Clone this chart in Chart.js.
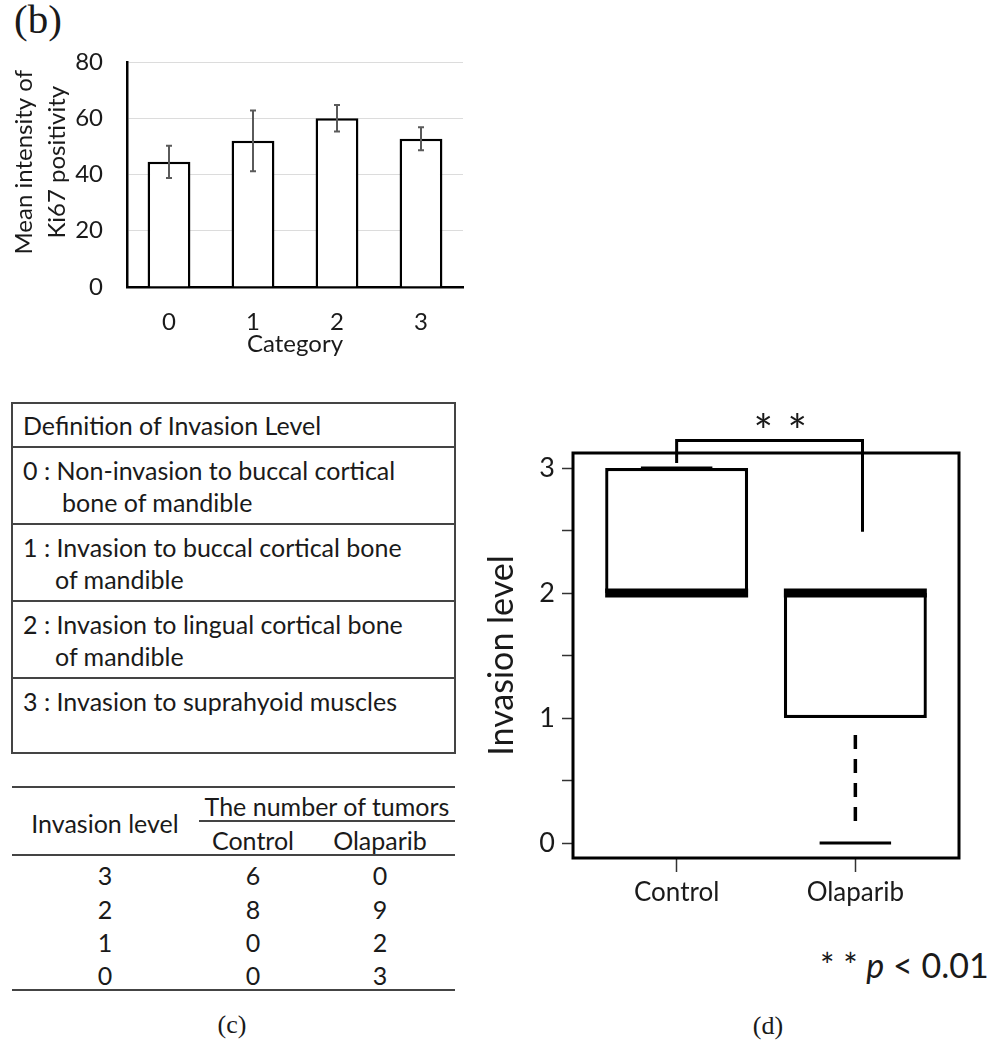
<!DOCTYPE html>
<html>
<head>
<meta charset="utf-8">
<script src="https://cdn.jsdelivr.net/npm/chart.js@4.4.1/dist/chart.umd.min.js"></script>
<style>
  body { margin: 0; width: 997px; height: 1043px; position: relative; overflow: hidden; background: #fff; font-family: Lato, sans-serif; color: #1a1a1a; }
  .abs { position: absolute; white-space: nowrap; }
  .serif { font-family: 'Liberation Serif', serif; }
  .rule { position: absolute; height: 2px; background: #444; }
  .cell { position: absolute; width: 260px; text-align: center; font-size: 25px; line-height: 30px; white-space: nowrap; }
  #defTable { position: absolute; left: 11px; top: 402px; width: 441px; height: 348px; border: 2px solid #444; font-size: 25px; }
  .defRow { border-top: 2px solid #444; padding: 6px 0 0 10px; box-sizing: border-box; line-height: 32px; white-space: nowrap; }
  .defRow:first-child { border-top: none; padding-top: 5px; }
</style>
</head>
<body>
<div class="abs serif" style="left:14px;top:-1px;font-size:41px;line-height:40px">(b)</div>
<canvas id="barChart" class="abs" width="480" height="360" style="left:0;top:0"></canvas>

<div id="defTable"></div>
<div id="countTable"></div>
<div class="abs serif" style="left:182px;top:1010px;width:100px;text-align:center;font-size:26px;line-height:30px">(c)</div>

<canvas id="boxChart" class="abs" width="517" height="530" style="left:480px;top:390px"></canvas>
<div class="abs" style="left:820px;top:945px;font-size:34px;line-height:40px">* * <i>p</i> &lt; 0.01</div>
<div class="abs serif" style="left:718px;top:1011px;width:100px;text-align:center;font-size:26px;line-height:30px">(d)</div>

<script>
// Ki67 positivity by category (panel b)
const categories = ['0', '1', '2', '3'];
const ki67Mean = [44.5, 52.0, 60.0, 52.7];
const ki67Err = [5.7, 10.8, 4.7, 4.1];
const ki67Ticks = [0, 20, 40, 60, 80];

// invasion level box plot (panel d)
const groups = ['Control', 'Olaparib'];
const whiskerLow = [2, 0];
const quart1 = [2, 1];
const medians = [2, 2];
const quart3 = [3, 2];
const whiskerHigh = [3, 2];
const invasionTicks = [0, 0.5, 1, 1.5, 2, 2.5, 3];
const invasionTickLabels = ['0', '', '1', '', '2', '', '3'];

// tumor counts (panel c)
const levels = ['3', '2', '1', '0'];
const controlCounts = [6, 8, 0, 0];
const olaparibCounts = [0, 9, 2, 3];

const defHeader = 'Definition of Invasion Level';
const defRows = [
  ['0 : Non-invasion to buccal cortical', 'bone of mandible'],
  ['1 : Invasion to buccal cortical bone', 'of mandible'],
  ['2 : Invasion to lingual cortical bone', 'of mandible'],
  ['3 : Invasion to suprahyoid muscles']
];

const ink = '#1a1a1a';

// ---------- definition table ----------
const defTable = document.getElementById('defTable');
const rowHeights = [42, 77, 77, 77, 75];
[[defHeader]].concat(defRows).forEach((lines, r) => {
  const row = document.createElement('div');
  row.className = 'defRow';
  row.style.height = rowHeights[r] + 'px';
  lines.forEach((t, k) => {
    const line = document.createElement('div');
    line.textContent = t;
    if (k > 0) line.style.marginLeft = (r === 1 ? 39 : 32) + 'px';
    row.appendChild(line);
  });
  defTable.appendChild(row);
});

// ---------- count table ----------
const countTable = document.getElementById('countTable');
function rule(x0, x1, y) {
  const d = document.createElement('div');
  d.className = 'rule';
  d.style.left = x0 + 'px';
  d.style.width = (x1 - x0) + 'px';
  d.style.top = (y - 1) + 'px';
  countTable.appendChild(d);
}
function cell(text, cx, cy) {
  const d = document.createElement('div');
  d.className = 'cell';
  d.textContent = text;
  d.style.left = (cx - 130) + 'px';
  d.style.top = (cy - 15) + 'px';
  countTable.appendChild(d);
}
rule(12, 455, 787);
rule(199, 455, 821);
rule(12, 455, 855);
rule(12, 455, 990);
const colX = [105, 253, 380];
cell('Invasion level', colX[0], 823);
cell('The number of tumors', 327, 806);
cell('Control', colX[1], 840);
cell('Olaparib', colX[2], 840);
const rowY = [875, 908.5, 942, 975];
levels.forEach((lv, i) => {
  cell(lv, colX[0], rowY[i]);
  cell(String(controlCounts[i]), colX[1], rowY[i]);
  cell(String(olaparibCounts[i]), colX[2], rowY[i]);
});

// ---------- panel b: bar chart with error bars ----------
const errorBars = {
  id: 'errorBars',
  afterDatasetsDraw(chart) {
    const ctx = chart.ctx;
    const y = chart.scales.y;
    ctx.save();
    ctx.strokeStyle = '#5a5a5a';
    ctx.lineWidth = 2;
    chart.getDatasetMeta(0).data.forEach((bar, i) => {
      const top = y.getPixelForValue(ki67Mean[i] + ki67Err[i]);
      const bot = y.getPixelForValue(ki67Mean[i] - ki67Err[i]);
      ctx.beginPath();
      ctx.moveTo(bar.x, top); ctx.lineTo(bar.x, bot);
      ctx.moveTo(bar.x - 3, top); ctx.lineTo(bar.x + 3, top);
      ctx.moveTo(bar.x - 3, bot); ctx.lineTo(bar.x + 3, bot);
      ctx.stroke();
    });
    ctx.restore();
  }
};

new Chart(document.getElementById('barChart'), {
  type: 'bar',
  data: {
    labels: categories,
    datasets: [{
      data: ki67Mean,
      backgroundColor: '#fff',
      borderColor: '#000',
      borderWidth: 2.5,
      barPercentage: 0.51,
      categoryPercentage: 1
    }]
  },
  options: {
    responsive: false,
    animation: false,
    events: [],
    layout: { padding: { top: 62, right: 17 } },
    plugins: { legend: { display: false }, tooltip: { enabled: false } },
    scales: {
      x: {
        grid: { display: false, drawTicks: false },
        border: { color: '#000', width: 2.5 },
        ticks: { color: ink, font: { family: 'Lato', size: 24 }, padding: 21 },
        title: { display: true, text: 'Category', color: ink, font: { family: 'Lato', size: 24 }, padding: { top: 0, bottom: 1 } },
        afterFit(s) { s.height = 73; }
      },
      y: {
        min: 0,
        max: 80,
        afterBuildTicks(s) { s.ticks = ki67Ticks.map(v => ({ value: v })); },
        grid: { color: '#dcdcdc', lineWidth: 1, drawTicks: false },
        border: { color: '#000', width: 2.5 },
        ticks: { color: ink, font: { family: 'Lato', size: 24 }, padding: 24 },
        title: {
          display: true,
          text: ['    Mean intensity of', '    Ki67 positivity'],
          color: ink,
          font: { family: 'Lato', size: 24, lineHeight: 1.36 },
          padding: { top: 8, bottom: 0 }
        },
        afterFit(s) { s.width = 127; }
      }
    }
  },
  plugins: [errorBars]
});

// ---------- panel d: box plot ----------
const bracketX = [1, 2.04];
const bracketFeet = [3.04, 2.49];
const bracketTop = 3.22;
const starsAt = { x: 1.58, y: 3.35 };

const boxExtras = {
  id: 'boxExtras',
  afterDatasetsDraw(chart) {
    const { ctx, chartArea: a, scales: { x, y } } = chart;
    ctx.save();
    ctx.strokeStyle = '#000';
    ctx.lineCap = 'butt';
    chart.getDatasetMeta(0).data.forEach((box, i) => {
      const half = box.width / 2;
      const cx = box.x;
      // dashed whiskers
      ctx.lineWidth = 3.5;
      ctx.setLineDash([14, 10]);
      if (whiskerLow[i] < quart1[i]) {
        ctx.beginPath();
        ctx.moveTo(cx, y.getPixelForValue(quart1[i]) + 17);
        ctx.lineTo(cx, y.getPixelForValue(whiskerLow[i]) - 22);
        ctx.stroke();
      }
      if (whiskerHigh[i] > quart3[i]) {
        ctx.beginPath();
        ctx.moveTo(cx, y.getPixelForValue(quart3[i]) - 17);
        ctx.lineTo(cx, y.getPixelForValue(whiskerHigh[i]) + 22);
        ctx.stroke();
      }
      ctx.setLineDash([]);
      // staples
      ctx.lineWidth = 3;
      [whiskerLow[i], whiskerHigh[i]].forEach(v => {
        const py = y.getPixelForValue(v);
        ctx.beginPath();
        ctx.moveTo(cx - half / 2, py);
        ctx.lineTo(cx + half / 2, py);
        ctx.stroke();
      });
      // median
      ctx.lineWidth = 9;
      const my = y.getPixelForValue(medians[i]);
      ctx.beginPath();
      ctx.moveTo(cx - half, my);
      ctx.lineTo(cx + half, my);
      ctx.stroke();
    });
    // frame
    ctx.lineWidth = 3;
    ctx.strokeRect(a.left, a.top, a.right - a.left, a.bottom - a.top);
    // significance bracket
    const bx0 = x.getPixelForValue(bracketX[0]);
    const bx1 = x.getPixelForValue(bracketX[1]);
    const by = y.getPixelForValue(bracketTop);
    ctx.beginPath();
    ctx.moveTo(bx0, y.getPixelForValue(bracketFeet[0]));
    ctx.lineTo(bx0, by);
    ctx.lineTo(bx1, by);
    ctx.lineTo(bx1, y.getPixelForValue(bracketFeet[1]));
    ctx.stroke();
    // stars
    ctx.fillStyle = ink;
    ctx.font = '46px Lato';
    ctx.textAlign = 'center';
    ctx.textBaseline = 'middle';
    const sx = x.getPixelForValue(starsAt.x);
    const sy = y.getPixelForValue(starsAt.y);
    ctx.fillText('*', sx - 17, sy + 9);
    ctx.fillText('*', sx + 17, sy + 9);
    ctx.restore();
  }
};

new Chart(document.getElementById('boxChart'), {
  type: 'bar',
  data: {
    datasets: [{
      data: groups.map((g, i) => ({ x: i + 1, y: [quart1[i], quart3[i]] })),
      backgroundColor: '#fff',
      borderColor: '#000',
      borderWidth: 3.3,
      borderSkipped: false,
      barPercentage: 0.8,
      categoryPercentage: 1
    }]
  },
  options: {
    responsive: false,
    animation: false,
    events: [],
    layout: { padding: { top: 63, right: 38, bottom: 12 } },
    plugins: { legend: { display: false }, tooltip: { enabled: false } },
    scales: {
      x: {
        type: 'linear',
        offset: false,
        min: 0.42,
        max: 2.58,
        afterBuildTicks(s) { s.ticks = groups.map((g, i) => ({ value: i + 1 })); },
        grid: { offset: false, drawOnChartArea: false, drawTicks: true, tickLength: 14, tickColor: '#333', tickWidth: 1.5 },
        border: { display: false },
        ticks: {
          autoSkip: false, maxRotation: 0, padding: 5, color: ink,
          font: { family: 'Lato', size: 26 },
          callback: (v) => groups[Math.round(v) - 1]
        },
        afterFit(s) { s.height = 50; }
      },
      y: {
        min: -0.12,
        max: 3.12,
        afterBuildTicks(s) { s.ticks = invasionTicks.map(v => ({ value: v })); },
        grid: { drawOnChartArea: false, drawTicks: true, tickLength: 11, tickColor: '#333', tickWidth: 1.5 },
        border: { display: false },
        ticks: {
          autoSkip: false, padding: 7, color: ink,
          font: { family: 'Lato', size: 27 },
          callback: (v, idx) => invasionTickLabels[idx]
        },
        title: { display: true, text: 'Invasion level', color: ink, font: { family: 'Lato', size: 34 }, padding: { top: 2, bottom: 0 } },
        afterFit(s) { s.width = 93; }
      }
    }
  },
  plugins: [boxExtras]
});
</script>
</body>
</html>
